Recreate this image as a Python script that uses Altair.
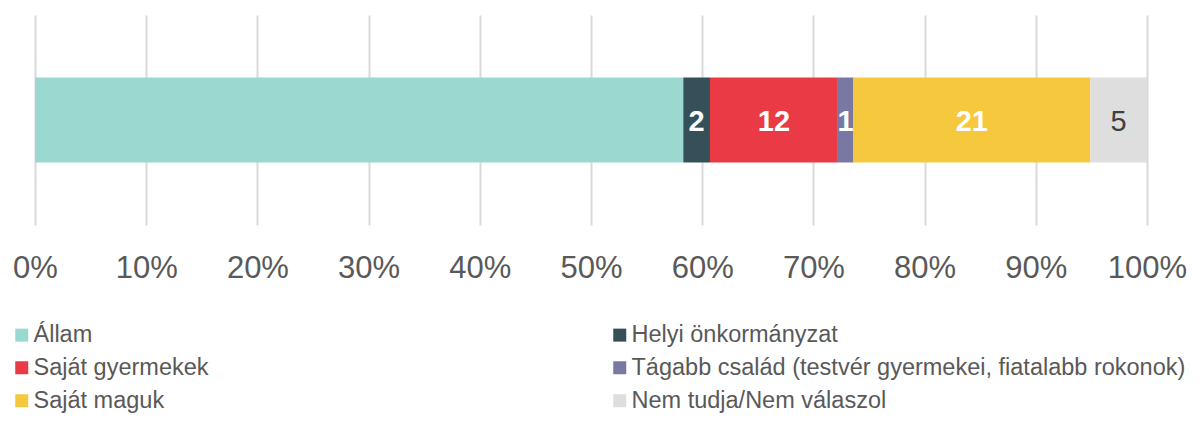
import altair as alt
import pandas as pd

categories = ["Állam", "Helyi önkormányzat", "Saját gyermekek",
              "Tágabb család (testvér gyermekei, fiatalabb rokonok)",
              "Saját maguk", "Nem tudja/Nem válaszol"]
values = [58.3, 2.4, 11.5, 1.4, 21.3, 5.1]
labels = ["", "2", "12", "1", "21", "5"]
colors = ["#9BD8D0", "#36505A", "#E93A45", "#7878A2", "#F5C83E", "#DEDEDE"]
ticks = [0, 0.1, 0.2, 0.3, 0.4, 0.5, 0.6, 0.7, 0.8, 0.9, 1.0]

df = pd.DataFrame({"cat": categories, "val": [v / 100 for v in values],
                   "label": labels, "order": list(range(len(categories))),
                   "row": ["r"] * len(categories)})

FONT = "Arial, 'Liberation Sans', sans-serif"

base = alt.Chart(df)

bars = base.mark_bar(size=85).encode(
    x=alt.X("val:Q", stack="zero",
            scale=alt.Scale(domain=[0, 1], nice=False),
            axis=alt.Axis(format=".0%", values=ticks, title=None, domain=False,
                          ticks=False, labelFontSize=31, labelColor="#595959",
                          labelFont=FONT, labelPadding=28, grid=True,
                          gridColor="#D9D9D9", gridWidth=2,
                          labelFlush=False)),
    y=alt.Y("row:N", axis=None),
    color=alt.Color("cat:N", sort=categories,
                    scale=alt.Scale(domain=categories, range=colors),
                    legend=alt.Legend(title=None, orient="none", columns=2,
                                      direction="horizontal",
                                      legendX=-25, legendY=308,
                                      padding=0,
                                      columnPadding=399, rowPadding=8,
                                      symbolType="square", symbolSize=169,
                                      symbolStrokeWidth=0, labelOffset=0,
                                      labelFontSize=23.5, labelColor="#595959",
                                      labelFont=FONT, labelLimit=700)),
    order=alt.Order("order:Q"),
)

stacked = base.transform_stack(
    stack="val", groupby=["row"], as_=["x0", "x1"],
    sort=[alt.SortField("order", order="ascending")]
).transform_calculate(mid="(datum.x0 + datum.x1) / 2")

txt_white = stacked.transform_filter(
    "datum.cat != 'Nem tudja/Nem válaszol'"
).mark_text(font=FONT, fontSize=29, fontWeight="bold", color="white",
            baseline="middle", dy=2).encode(
    x="mid:Q", y=alt.Y("row:N", axis=None), text="label:N")

txt_dark = stacked.transform_filter(
    "datum.cat == 'Nem tudja/Nem válaszol'"
).mark_text(font=FONT, fontSize=29, color="#404040",
            baseline="middle", dy=2).encode(
    x="mid:Q", y=alt.Y("row:N", axis=None), text="label:N")

chart = alt.layer(bars, txt_white, txt_dark).properties(
    width=1112, height=210,
    autosize=alt.AutoSizeParams(type="none"),
    padding={"left": 27, "top": 7, "right": 48, "bottom": 188}
).configure_view(stroke=None)

chart.save("out.html", embed_options={"renderer": "svg", "actions": False})
